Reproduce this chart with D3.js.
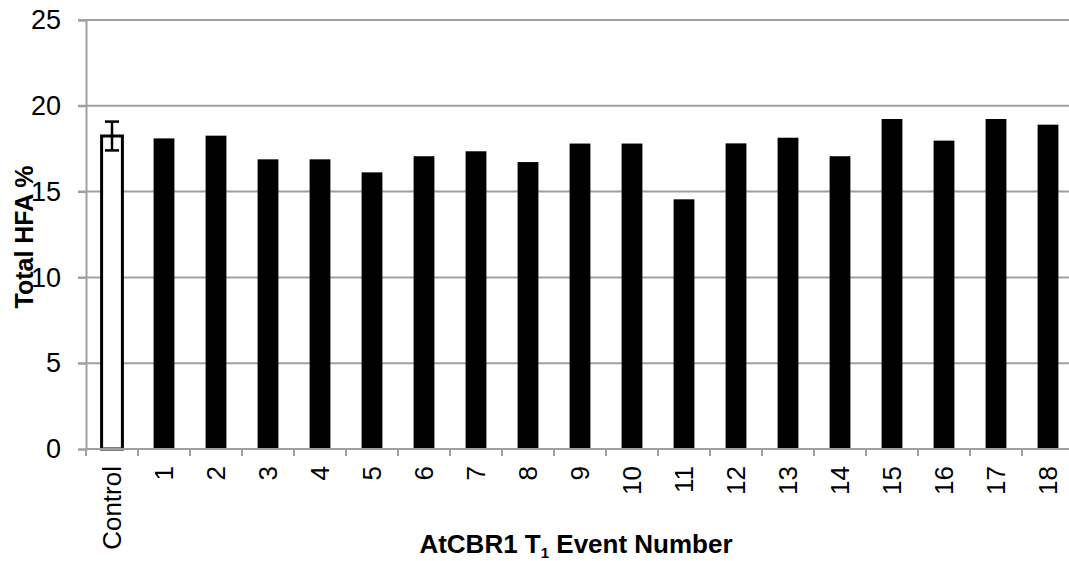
<!DOCTYPE html>
<html>
<head>
<meta charset="utf-8">
<script src="https://cdn.jsdelivr.net/npm/d3@7"></script>
<style>
  html, body { margin: 0; padding: 0; background: #fff; }
  svg { display: block; font-family: "Liberation Sans", Arial, sans-serif; }
</style>
</head>
<body>
<svg id="chart" width="1069" height="561"></svg>
<script>
// Total HFA % per AtCBR1 T1 event, with the untransformed control first
const categories = ["Control", "1", "2", "3", "4", "5", "6", "7", "8", "9",
                    "10", "11", "12", "13", "14", "15", "16", "17", "18"];
const hfaValues = [18.24, 18.1, 18.26, 16.88, 16.88, 16.12, 17.06, 17.35, 16.72, 17.8,
                   17.8, 14.55, 17.81, 18.14, 17.06, 19.23, 17.97, 19.23, 18.9];
const controlError = [0.84];          // +/- error on the control bar
const yTicks = [0, 5, 10, 15, 20, 25];

const svg = d3.select("#chart");
const plotLeft = 86, plotTop = 20, plotBottom = 449;
const bandW = 52;
const plotRight = plotLeft + bandW * categories.length;

const x = d3.scaleBand().domain(categories).range([plotLeft, plotRight]).paddingInner(0.6).paddingOuter(0.3);
const xEdges = d3.scaleLinear().domain([0, categories.length]).range([plotLeft, plotRight]);
const y = d3.scaleLinear().domain([0, 25]).range([plotBottom, plotTop]);

const grey = "#a0a0a0";

// horizontal gridlines
svg.append("g")
  .selectAll("line")
  .data(yTicks.filter(d => d > 0))
  .join("line")
  .attr("x1", plotLeft - 8).attr("x2", plotRight)
  .attr("y1", d => y(d)).attr("y2", d => y(d))
  .attr("stroke", grey).attr("stroke-width", 2);

// y axis
const yAxis = svg.append("g")
  .attr("transform", `translate(${plotLeft},0)`)
  .call(d3.axisLeft(y).tickValues(yTicks).tickSize(8).tickPadding(17).tickFormat(d3.format("d")));
yAxis.select(".domain").attr("stroke", grey).attr("stroke-width", 2);
yAxis.selectAll(".tick line").attr("stroke", grey).attr("stroke-width", 2);
yAxis.selectAll(".tick text").attr("font-size", 27).attr("fill", "#000")
  .attr("font-family", "Liberation Sans, Arial, sans-serif");

// bars
svg.append("g")
  .selectAll("rect")
  .data(categories.map((c, i) => ({ c, v: hfaValues[i], i })))
  .join("rect")
  .attr("x", d => x(d.c))
  .attr("width", x.bandwidth())
  .attr("y", d => y(d.v))
  .attr("height", d => y(0) - y(d.v))
  .attr("fill", d => d.i === 0 ? "#fff" : "#000")
  .attr("stroke", d => d.i === 0 ? "#000" : "none")
  .attr("stroke-width", 3);

// error bar on the control
const cx = x("Control") + x.bandwidth() / 2;
const eTop = y(hfaValues[0] + controlError[0]);
const eBot = y(hfaValues[0] - controlError[0]);
const err = svg.append("g").attr("stroke", "#000").attr("stroke-width", 2.5);
err.append("line").attr("x1", cx).attr("x2", cx).attr("y1", eTop).attr("y2", eBot);
err.append("line").attr("x1", cx - 7).attr("x2", cx + 7).attr("y1", eTop).attr("y2", eTop);
err.append("line").attr("x1", cx - 7).attr("x2", cx + 7).attr("y1", eBot).attr("y2", eBot);

// x axis line with tick marks at band boundaries
svg.append("line")
  .attr("x1", plotLeft).attr("x2", plotRight).attr("y1", plotBottom).attr("y2", plotBottom)
  .attr("stroke", grey).attr("stroke-width", 2);
svg.append("g")
  .selectAll("line")
  .data(d3.range(categories.length + 1))
  .join("line")
  .attr("x1", d => xEdges(d)).attr("x2", d => xEdges(d))
  .attr("y1", plotBottom).attr("y2", plotBottom + 7)
  .attr("stroke", grey).attr("stroke-width", 2);

// rotated category labels
svg.append("g")
  .selectAll("text")
  .data(categories)
  .join("text")
  .attr("transform", d => `translate(${x(d) + x.bandwidth() / 2},${plotBottom + 17}) rotate(-90)`)
  .attr("text-anchor", "end")
  .attr("dy", "0.35em")
  .attr("font-size", 26)
  .text(d => d);

// axis titles
svg.append("text")
  .attr("transform", `translate(33,237) rotate(-90)`)
  .attr("text-anchor", "middle")
  .attr("font-size", 25).attr("font-weight", "bold")
  .text("Total HFA %");

const xt = svg.append("text")
  .attr("x", 576).attr("y", 553)
  .attr("text-anchor", "middle")
  .attr("font-size", 26).attr("font-weight", "bold");
xt.append("tspan").text("AtCBR1 T");
xt.append("tspan").attr("font-size", 15).attr("dy", 5).text("1");
xt.append("tspan").attr("dy", -5).text(" Event Number");
</script>
</body>
</html>
